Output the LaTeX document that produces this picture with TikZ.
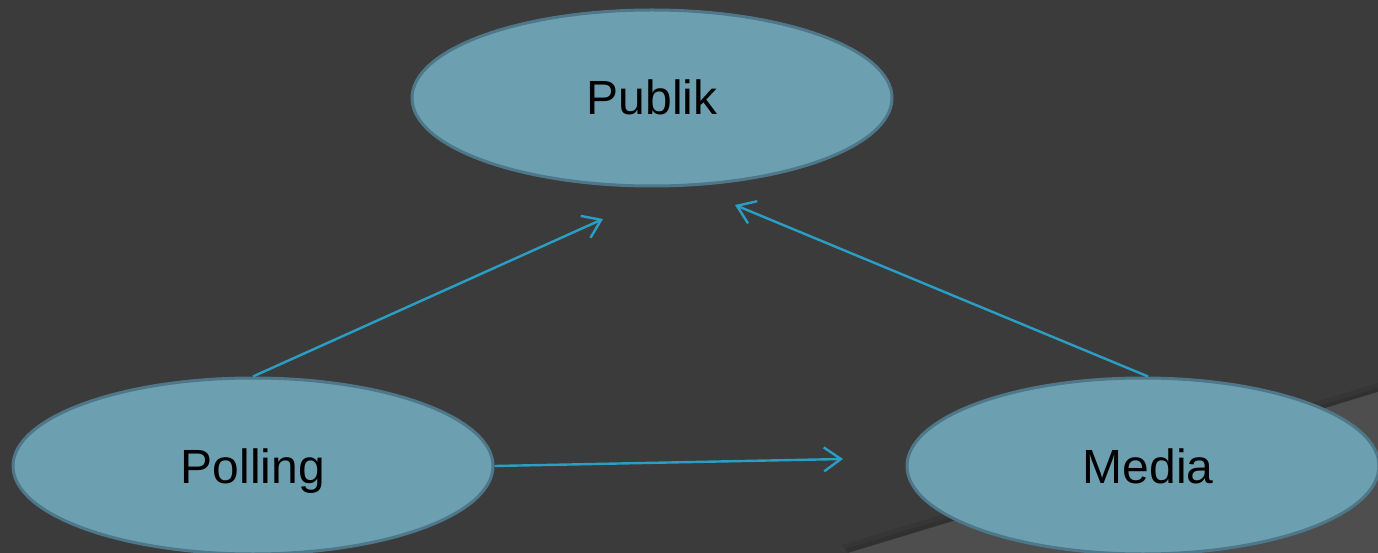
\documentclass[tikz,border=0pt]{standalone}
\usepackage{fontspec}
\setmainfont{Liberation Sans}
\usetikzlibrary{shapes.geometric,arrows.meta}
\definecolor{bgdark}{HTML}{3B3B3B}
\definecolor{bglight}{HTML}{4E4E4E}
\definecolor{ovalfill}{HTML}{6CA0B0}
\definecolor{ovalline}{HTML}{4E7889}
\definecolor{linkblue}{HTML}{2A9FC6}
\tikzset{
  oval/.style={ellipse, fill=ovalfill, draw=ovalline, line width=3pt,
    minimum width=480pt, minimum height=176pt, inner sep=0pt,
    font=\fontsize{48}{52}\selectfont, text=black,
    text height=34pt, text depth=0pt},
  link/.style={draw=linkblue, line width=2.4pt,
    -{Straight Barb[length=17pt,width=24pt,line width=2.4pt]}}
}
\begin{document}
\begin{tikzpicture}[x=1pt,y=-1pt]
  \useasboundingbox (0,0) rectangle (1378,553);
  \clip (0,0) rectangle (1378,553);
  % backdrop with a lighter folded corner
  \fill[bgdark] (0,0) rectangle (1378,553);
  \fill[black,opacity=0.08] (842,545) -- (1378,383) -- (1378,392) -- (848,553) -- cycle;
  \fill[black,opacity=0.08] (845,549) -- (1378,388) -- (1378,392) -- (848,553) -- cycle;
  \fill[bglight] (848,553) -- (1378,392) -- (1378,553) -- cycle;
  % ovals
  \node[oval] (publik)  at (652,98)  {Publik};
  \node[oval] (polling) at (253,466) {Polling};
  \node[oval, minimum width=472pt] (media) at (1143,466) {\hspace*{10pt}Media};
  % arrow targets
  \coordinate (tpub1) at (603,219);
  \coordinate (tpub2) at (735,205);
  \coordinate (tmed)  at (843,459);
  % connectors
  \draw[link] (polling.north) -- (tpub1);
  \draw[link] ([xshift=5pt]media.north) -- (tpub2);
  \draw[link] (polling.east) -- (tmed);
\end{tikzpicture}
\end{document}
